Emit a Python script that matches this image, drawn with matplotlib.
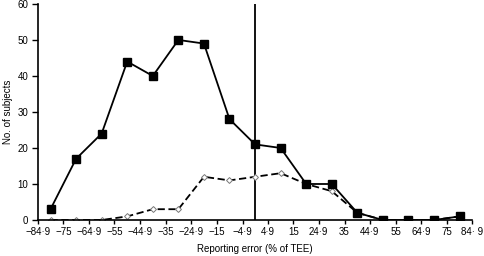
import matplotlib
matplotlib.use("Agg")
import matplotlib.pyplot as plt

plt.rcParams['font.family'] = ['Liberation Sans', 'DejaVu Sans']

# bin centres (% of TEE)
bins = [-80, -70, -60, -50, -40, -30, -20, -10, 0, 10, 20, 30, 40, 50, 60, 70, 80]
all_subjects = [3, 17, 24, 44, 40, 50, 49, 28, 21, 20, 10, 10, 2, 0, 0, 0, 1]
subgroup = [0, 0, 0, 1, 3, 3, 12, 11, 12, 13, 10, 8, 2, 0, 0, 0, 1]

tick_vals = [-84.9, -75, -64.9, -55, -44.9, -35, -24.9, -15, -4.9,
             4.9, 15, 24.9, 35, 44.9, 55, 64.9, 75, 84.9]
tick_labels = ['\u221284\u00b79', '\u221275', '\u221264\u00b79', '\u221255',
               '\u221244\u00b79', '\u221235', '\u221224\u00b79', '\u221215',
               '\u22124\u00b79', '4\u00b79', '15', '24\u00b79', '35',
               '44\u00b79', '55', '64\u00b79', '75', '84\u00b7 9']

fig = plt.figure(figsize=(4.84, 2.56), dpi=100)
ax = fig.add_axes([0.0785, 0.1406, 0.897, 0.844])

ax.plot(bins, subgroup, color='black', lw=1.3, ls=(0, (4, 2)),
        marker='D', ms=3, mfc='white', mec='#777777', mew=0.7, zorder=2)
ax.plot(bins, all_subjects, color='black', lw=1.3, marker='s', ms=5.5,
        zorder=3)
ax.axvline(0, color='black', lw=1.3, zorder=1)

ax.set_xlim(-84.9, 84.9)
ax.set_ylim(0, 60)
ax.set_xticks(tick_vals)
ax.set_xticklabels(tick_labels, fontsize=7)
ax.set_yticks(range(0, 61, 10))
ax.tick_params(axis='y', labelsize=7, length=4, width=1, pad=3)
ax.tick_params(axis='x', length=3, width=1, pad=2)

for s in ['top', 'right']:
    ax.spines[s].set_visible(False)
for s in ['left', 'bottom']:
    ax.spines[s].set_linewidth(1.2)

ax.set_xlabel('Reporting error (% of TEE)', fontsize=7, labelpad=5)
ax.set_ylabel('No. of subjects', fontsize=7, labelpad=3)

fig.savefig('out.png', dpi=100)
